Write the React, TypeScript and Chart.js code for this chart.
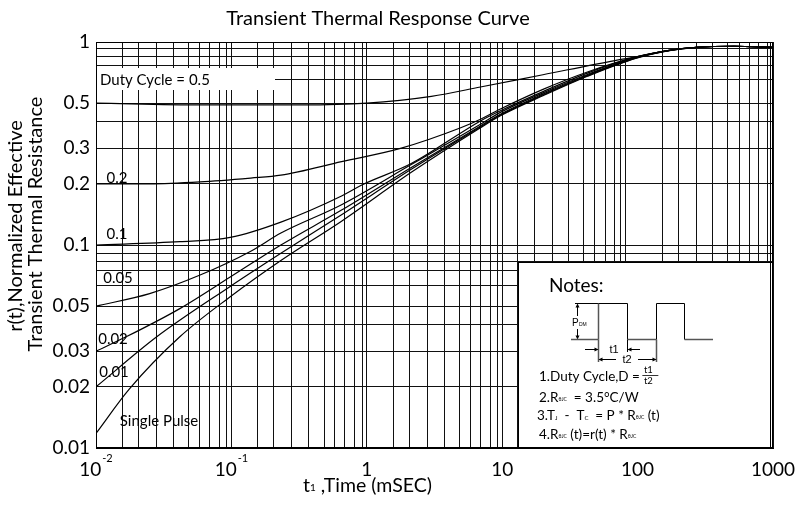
import React, { useEffect, useRef } from 'react';
import { Chart, registerables } from 'chart.js';

Chart.register(...registerables);

const FONT = 'Lato, "Open Sans", sans-serif';

// ---- data: t1 (mSEC) and r(t) for each duty cycle ----
const tD05 = [0.01, 0.06, 0.33, 1, 3, 6.9, 20, 68, 98, 171, 274, 515, 1000];
const rD05 = [0.5, 0.49, 0.49, 0.5, 0.54, 0.6, 0.69, 0.81, 0.845, 0.907, 0.94, 0.953, 0.942];

const tD02 = [0.01, 0.0249, 0.0587, 0.139, 0.232, 0.651, 1.8, 4.94, 6.91, 9.7, 20.2, 42.6, 98, 171, 274, 515, 1000];
const rD02 = [0.2, 0.2, 0.2044, 0.2136, 0.2207, 0.2573, 0.3, 0.378, 0.4164, 0.4674, 0.5856, 0.7113, 0.844, 0.91, 0.942, 0.953, 0.942];

const tD01 = [0.01, 0.0416, 0.098, 0.232, 0.651, 0.918, 2.13, 6.91, 9.7, 20.2, 42.6, 98, 171, 274, 515, 1000];
const rD01 = [0.1, 0.1038, 0.109, 0.1297, 0.1745, 0.1975, 0.252, 0.4085, 0.4584, 0.5715, 0.703, 0.844, 0.91, 0.942, 0.953, 0.942];

const tD005 = [0.01, 0.0249, 0.0587, 0.139, 0.232, 0.651, 2.13, 6.91, 9.7, 20.2, 42.6, 98, 171, 274, 515, 1000];
const rD005 = [0.05, 0.0576, 0.0711, 0.0932, 0.1146, 0.158, 0.249, 0.393, 0.45, 0.563, 0.692, 0.84, 0.91, 0.942, 0.953, 0.942];

const tD002 = [0.01, 0.0167, 0.0416, 0.098, 0.232, 0.651, 2.13, 6.91, 9.7, 20.2, 42.6, 98, 171, 274, 515, 1000];
const rD002 = [0.03, 0.0353, 0.0486, 0.0695, 0.1, 0.1486, 0.241, 0.386, 0.441, 0.555, 0.686, 0.837, 0.909, 0.942, 0.953, 0.942];

const tD001 = [0.01, 0.0281, 0.098, 0.232, 0.651, 2.13, 6.91, 9.7, 20.2, 42.6, 98, 171, 274, 515, 1000];
const rD001 = [0.02, 0.0353, 0.0625, 0.091, 0.141, 0.236, 0.382, 0.437, 0.55, 0.682, 0.835, 0.908, 0.941, 0.953, 0.942];

const tSingle = [0.01, 0.0176, 0.0416, 0.098, 0.232, 0.651, 2.13, 6.91, 9.7, 20.2, 42.6, 98, 171, 274, 515, 1000];
const rSingle = [0.0118, 0.0195, 0.0353, 0.0556, 0.0839, 0.131, 0.228, 0.378, 0.433, 0.545, 0.678, 0.833, 0.907, 0.941, 0.953, 0.942];

// ---- axis ticks / grid ----
const xGridTicks = [
  0.01, 0.0157, 0.0206, 0.028, 0.0374, 0.0483, 0.0582, 0.069, 0.0818, 0.0922, 0.1,
  0.157, 0.206, 0.28, 0.374, 0.483, 0.582, 0.69, 0.818, 0.922, 1,
  1.57, 2.06, 2.8, 3.74, 4.83, 5.82, 6.9, 8.18, 9.22, 10,
  13, 17.4, 23.7, 31, 40.1, 48.3, 58.3, 68, 75.3, 82,
  154, 202, 274, 360, 465, 570, 676, 788, 903, 1000,
];
const xTickValues = [0.01, 0.1, 1, 10, 100, 1000];
const xTickBase = ['10', '10', '1', '10', '100', '1000'];
const xTickExp = ['-2', '-1', '', '', '', ''];

const yGridTicks = [1, 0.924, 0.844, 0.762, 0.65, 0.5, 0.408, 0.3, 0.2, 0.1, 0.0913, 0.0834, 0.0753, 0.0635, 0.05, 0.0404, 0.03, 0.02, 0.01];
const yTickValues = [1, 0.5, 0.3, 0.2, 0.1, 0.05, 0.03, 0.02, 0.01];
const yTickLabels = ['1', '0.5', '0.3', '0.2', '0.1', '0.05', '0.03', '0.02', '0.01'];

const curveLabels = ['0.2', '0.1', '0.05', '0.02', '0.01', 'Single Pulse'];

function pts(t: number[], r: number[]) {
  return t.map((x, i) => ({ x, y: r[i] }));
}

function drawRuns(ctx: CanvasRenderingContext2D, x: number, y: number, runs: [string, number, number][]) {
  let cx = x;
  for (const [txt, size, dy] of runs) {
    ctx.font = `${size}px ${FONT}`;
    ctx.fillText(txt, cx, y + dy);
    cx += ctx.measureText(txt).width;
  }
  return cx;
}

function arrowHead(ctx: CanvasRenderingContext2D, x: number, y: number, dir: 'l' | 'r' | 'u' | 'd') {
  const s = 4, w = 2;
  ctx.beginPath();
  if (dir === 'r') { ctx.moveTo(x, y); ctx.lineTo(x - s, y - w); ctx.lineTo(x - s, y + w); }
  if (dir === 'l') { ctx.moveTo(x, y); ctx.lineTo(x + s, y - w); ctx.lineTo(x + s, y + w); }
  if (dir === 'u') { ctx.moveTo(x, y); ctx.lineTo(x - w, y + s); ctx.lineTo(x + w, y + s); }
  if (dir === 'd') { ctx.moveTo(x, y); ctx.lineTo(x - w, y - s); ctx.lineTo(x + w, y - s); }
  ctx.closePath();
  ctx.fill();
}

function seg(ctx: CanvasRenderingContext2D, x1: number, y1: number, x2: number, y2: number, color = '#000', w = 1) {
  ctx.strokeStyle = color;
  ctx.lineWidth = w;
  ctx.beginPath();
  ctx.moveTo(x1, y1);
  ctx.lineTo(x2, y2);
  ctx.stroke();
}

const annotPlugin = {
  id: 'annot',
  afterDraw(chart: any) {
    const { ctx, chartArea: a, scales } = chart;
    const xs = scales.x;
    ctx.save();

    // Duty cycle label box (hides grid)
    ctx.fillStyle = '#fff';
    ctx.fillRect(a.left + 1, 68, 274 - a.left, 22);

    // Notes box
    const nx = 518, ny = 262;
    ctx.fillRect(nx, ny, a.right - nx, a.bottom - ny);
    seg(ctx, nx, ny + 0.5, a.right, ny + 0.5);
    seg(ctx, nx + 0.5, ny, nx + 0.5, a.bottom);

    // plot border
    ctx.strokeStyle = '#000';
    ctx.lineWidth = 1;
    ctx.strokeRect(a.left + 0.5, a.top + 0.5, a.right - a.left - 1, a.bottom - a.top - 1);
    seg(ctx, a.right - 2.5, a.top, a.right - 2.5, a.bottom);

    ctx.fillStyle = '#000';
    ctx.textBaseline = 'middle';

    // Title
    ctx.font = `20px ${FONT}`;
    ctx.textAlign = 'center';
    ctx.fillText('Transient Thermal Response Curve', 378, 19);

    // Y title
    ctx.save();
    ctx.translate(16, 226);
    ctx.rotate(-Math.PI / 2);
    ctx.fillText('r(t),Normalized Effective', 0, 0);
    ctx.fillText('Transient Thermal Resistance', 2, 20);
    ctx.restore();

    // X tick labels
    for (let i = 0; i < xTickValues.length; i++) {
      const px = xs.getPixelForValue(xTickValues[i]);
      ctx.font = `19px ${FONT}`;
      const w1 = ctx.measureText(xTickBase[i]).width;
      ctx.font = `11px ${FONT}`;
      const w2 = xTickExp[i] ? ctx.measureText(xTickExp[i]).width + 1 : 0;
      const start = px - (w1 + w2) / 2;
      ctx.textAlign = 'left';
      ctx.font = `19px ${FONT}`;
      ctx.fillText(xTickBase[i], start, 470);
      if (xTickExp[i]) {
        ctx.font = `11px ${FONT}`;
        ctx.fillText(xTickExp[i], start + w1 + 1, 458);
      }
    }

    // X title
    ctx.textAlign = 'left';
    drawRuns(ctx, 303, 486, [['t', 19.5, 0], ['1', 10, 2], [' ,Time (mSEC)', 19.5, 0]]);

    // Curve labels
    ctx.font = `15px ${FONT}`;
    ctx.fillText('Duty Cycle = 0.5', 100, 80);
    ctx.textAlign = 'center';
    const lblPos = [[117, 178], [117, 234], [118, 278], [113, 339], [114, 372], [159, 421]];
    curveLabels.forEach((s, i) => ctx.fillText(s, lblPos[i][0], lblPos[i][1]));

    // Notes
    ctx.textAlign = 'left';
    ctx.font = `19px ${FONT}`;
    ctx.fillText('Notes:', 549, 286);

    // pulse diagram
    const top = 303.5, base = 339.5;
    const x0 = 571, r1 = 598.5, f1 = 627.5, r2 = 656.5, f2 = 684.5, x9 = 713;
    seg(ctx, 575, top, r1, top);
    seg(ctx, 577.5, top + 2, 577.5, 316);
    seg(ctx, 577.5, 329, 577.5, base - 2);
    ctx.fillStyle = '#000';
    arrowHead(ctx, 577.5, top, 'u');
    arrowHead(ctx, 577.5, base, 'd');
    seg(ctx, x0, base, r1, base, '#555', 1.5);
    seg(ctx, r1, base, r1, top, '#555', 1.5);
    seg(ctx, r1, top, f1, top);
    seg(ctx, f1, top, f1, base);
    seg(ctx, f1, base, r2, base, '#555', 1.5);
    seg(ctx, r2, base, r2, top);
    seg(ctx, r2, top, f2, top);
    seg(ctx, f2, top, f2, base);
    seg(ctx, f2, base, x9, base, '#555', 1.5);
    seg(ctx, r1, base, r1, 362, '#555', 1.5);
    seg(ctx, r2, base, r2, 362, '#555', 1.5);
    seg(ctx, f1, base, f1, 352);
    // t1
    seg(ctx, 585, 349.5, r1 - 1, 349.5);
    arrowHead(ctx, r1, 349.5, 'r');
    seg(ctx, f1 + 1, 349.5, 640, 349.5);
    arrowHead(ctx, f1, 349.5, 'l');
    // t2
    seg(ctx, r1 + 1, 359.5, 616, 359.5);
    arrowHead(ctx, r1, 359.5, 'l');
    seg(ctx, 638, 359.5, r2 - 1, 359.5);
    arrowHead(ctx, r2, 359.5, 'r');
    ctx.font = '11px "Liberation Sans", Arial, sans-serif';
    ctx.textAlign = 'center';
    ctx.fillText('t1', 614, 349.5);
    ctx.fillText('t2', 627, 359.5);
    ctx.textAlign = 'left';
    ctx.font = '10px "Liberation Sans", Arial, sans-serif';
    ctx.fillText('P', 572, 323);
    ctx.font = '5px "Liberation Sans", Arial, sans-serif';
    ctx.fillText('DM', 579, 325);

    // notes text
    const ex = drawRuns(ctx, 539, 377, [['1.Duty Cycle,D = ', 13.5, 0]]);
    ctx.font = `9.5px ${FONT}`;
    ctx.textAlign = 'center';
    ctx.fillText('t1', ex + 5, 370);
    ctx.fillText('t2', ex + 5, 381);
    ctx.textAlign = 'left';
    seg(ctx, ex - 1, 375.5, ex + 15, 375.5, '#000', 0.8);
    drawRuns(ctx, 539, 398, [['2.R', 13.5, 0], ['θJC', 5, 1], ['  = 3.5°C/W', 13.5, 0]]);
    drawRuns(ctx, 537, 416, [['3.T', 13.5, 0], ['J', 6, 2], ['  -  T', 13.5, 0], ['C', 6, 2], ['  = P * R', 13.5, 0], ['θJC', 5, 1], [' (t)', 13.5, 0]]);
    drawRuns(ctx, 539, 435, [['4.R', 13.5, 0], ['θJC', 5, 1], [' (t)=r(t) * R', 13.5, 0], ['θJC', 5, 1]]);

    ctx.restore();
  },
};

export default function App() {
  const ref = useRef<HTMLCanvasElement | null>(null);

  useEffect(() => {
    document.body.style.margin = '0';
    const canvas = ref.current;
    if (!canvas) return;
    const line = (data: { x: number; y: number }[]) => ({
      data,
      borderColor: '#000',
      borderWidth: 1.2,
      pointRadius: 0,
      fill: false,
      cubicInterpolationMode: 'monotone' as const,
    });
    const yLabelMap = new Map<number, string>();
    yTickValues.forEach((v, i) => yLabelMap.set(v, yTickLabels[i]));

    const chart = new Chart(canvas, {
      type: 'line',
      data: {
        datasets: [
          line(pts(tD05, rD05)),
          line(pts(tD02, rD02)),
          line(pts(tD01, rD01)),
          line(pts(tD005, rD005)),
          line(pts(tD002, rD002)),
          line(pts(tD001, rD001)),
          line(pts(tSingle, rSingle)),
        ],
      },
      options: {
        responsive: false,
        animation: false,
        layout: { padding: { top: 42, right: 22, left: 0, bottom: 0 } },
        plugins: { legend: { display: false }, title: { display: false }, tooltip: { enabled: false } },
        scales: {
          x: {
            type: 'logarithmic',
            min: 0.01,
            max: 1000,
            afterBuildTicks: (s: any) => { s.ticks = xGridTicks.map((v) => ({ value: v })); },
            afterFit: (s: any) => { s.height = 58; },
            ticks: { display: false },
            grid: { color: '#111', lineWidth: 1, drawTicks: false },
            border: { display: true, color: '#000' },
          },
          y: {
            type: 'logarithmic',
            min: 0.01,
            max: 1,
            afterBuildTicks: (s: any) => { s.ticks = yGridTicks.map((v) => ({ value: v })); },
            afterFit: (s: any) => { s.width = 96; },
            ticks: {
              autoSkip: false,
              padding: 6,
              color: '#000',
              font: { family: FONT, size: 19 },
              callback: (v: any) => yLabelMap.get(Number(v)) ?? '',
            },
            grid: { color: '#111', lineWidth: 1, drawTicks: false },
            border: { display: true, color: '#000' },
          },
        },
      },
      plugins: [annotPlugin],
    } as any);
    return () => chart.destroy();
  }, []);

  return (
    <div style={{ position: 'absolute', left: 0, top: 0, width: 795, height: 506, background: '#fff' }}>
      <canvas ref={ref} width={795} height={506} style={{ display: 'block' }} />
    </div>
  );
}
